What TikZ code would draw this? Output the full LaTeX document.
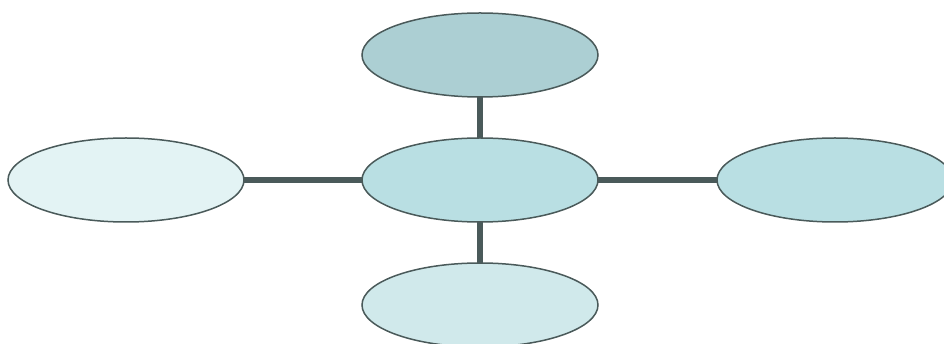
\documentclass[tikz,border=0pt]{standalone}
\usetikzlibrary{shapes.geometric}
\definecolor{lineC}{HTML}{4A5A5A}
\definecolor{topC}{HTML}{ACCFD3}
\definecolor{midC}{HTML}{B9DFE3}
\definecolor{leftC}{HTML}{E3F3F4}
\definecolor{botC}{HTML}{D0E9EB}
\tikzset{
  oval/.style={ellipse, draw=lineC, line width=1.5pt, minimum width=236pt, minimum height=84pt, inner sep=0pt, outer sep=0pt},
  link/.style={draw=lineC, line width=5.5pt}
}
\begin{document}
\begin{tikzpicture}[x=1pt,y=-1pt]
\useasboundingbox (0,0) rectangle (944,344);
\clip (0,0) rectangle (944,344);
\node[oval, fill=topC] (top) at (480,55) {};
\node[oval, fill=midC] (mid) at (480,180) {};
\node[oval, fill=leftC] (left) at (126,180) {};
\node[oval, fill=midC] (right) at (835,180) {};
\node[oval, fill=botC] (bot) at (480,305) {};
\draw[link] (top) -- (mid);
\draw[link] (mid) -- (bot);
\draw[link] (left) -- (mid);
\draw[link] (mid) -- (right);
\end{tikzpicture}
\end{document}
